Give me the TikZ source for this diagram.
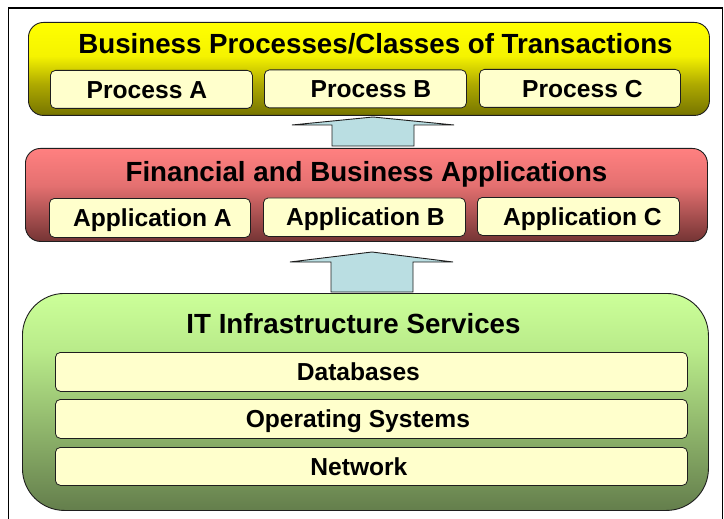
\documentclass[tikz,border=0pt]{standalone}
\usepackage{fontspec}
\setmainfont{Liberation Sans}
\usetikzlibrary{calc}

\definecolor{yelTop}{RGB}{255,255,0}
\definecolor{yelMid}{RGB}{245,243,0}
\definecolor{yelLow}{RGB}{175,170,0}
\definecolor{yelBot}{RGB}{118,116,0}
\definecolor{redTop}{RGB}{255,128,128}
\definecolor{redMid}{RGB}{228,112,112}
\definecolor{redBot}{RGB}{116,52,52}
\definecolor{grnTop}{RGB}{204,255,153}
\definecolor{grnMid}{RGB}{185,235,138}
\definecolor{grnBot}{RGB}{100,126,76}
\definecolor{cream}{RGB}{255,255,204}
\definecolor{arrowfill}{RGB}{186,222,226}
\definecolor{edge}{RGB}{30,30,30}

% vertical shadings: 25bp = bottom of the shape, 75bp = top
\pgfdeclareverticalshading{yellowlayer}{100bp}{color(0bp)=(yelBot); color(25bp)=(yelBot);
  color(42bp)=(yelLow); color(57bp)=(yelMid); color(75bp)=(yelTop); color(100bp)=(yelTop)}
\pgfdeclareverticalshading{redlayer}{100bp}{color(0bp)=(redBot); color(25bp)=(redBot);
  color(55bp)=(redMid); color(75bp)=(redTop); color(100bp)=(redTop)}
\pgfdeclareverticalshading{greenlayer}{100bp}{color(0bp)=(grnBot); color(25bp)=(grnBot);
  color(62bp)=(grnMid); color(75bp)=(grnTop); color(100bp)=(grnTop)}

% text padding: \padL pushes the label right, \padR pushes it left
\newcommand{\padL}[1]{\hspace*{#1}}
\newcommand{\padR}[1]{\hspace*{#1}}

\tikzset{
  layer/.style={draw=edge, line width=0.9pt, anchor=north west, inner sep=0pt},
  item/.style={draw=edge, line width=0.8pt, fill=cream, rounded corners=5pt,
    anchor=north west, inner sep=0pt, text height=17.6pt, text depth=0pt,
    font=\fontsize{24.6}{27}\selectfont\bfseries},
  title/.style={anchor=base, inner sep=0pt, font=\fontsize{27.7}{30}\selectfont\bfseries},
  uparrow/.style={draw=edge, line width=0.9pt, fill=arrowfill, line join=miter},
}

\begin{document}
\begin{tikzpicture}[x=1pt, y=-1pt]
\useasboundingbox (0,0) rectangle (724,519);

% frame
\draw[line width=1.5pt] (8.5,519) |- (722.5,8) -- (722.5,519);

% top layer: business processes
\node[layer, shading=yellowlayer, rounded corners=15pt,
  minimum width=681pt, minimum height=93pt] (biz) at (28,22) {};
\node[title] (bizT) at (375.5,54) {Business Processes/Classes of Transactions};
\node[item, minimum width=202pt, minimum height=38pt] (pA) at (50,70) {Process A\padR{9pt}};
\node[item, minimum width=202pt, minimum height=38pt] (pB) at (264,69.5) {\padL{11pt}Process B};
\node[item, minimum width=201pt, minimum height=38pt] (pC) at (479,69) {\padL{5pt}Process C};

% middle layer: applications
\node[layer, shading=redlayer, rounded corners=15pt,
  minimum width=682pt, minimum height=93pt] (fin) at (25,148) {};
\node[title] (finT) at (366.5,181) {Financial and Business Applications};
\node[item, minimum width=201pt, minimum height=39pt] (aA) at (49,198) {\padL{5pt}Application A};
\node[item, minimum width=202pt, minimum height=38.5pt] (aB) at (263,197.5) {\padL{2pt}Application B};
\node[item, minimum width=202pt, minimum height=38pt] (aC) at (477,197) {\padL{8pt}Application C};

% bottom layer: infrastructure
\node[layer, shading=greenlayer, rounded corners=42pt,
  minimum width=686pt, minimum height=217pt] (it) at (22,293) {};
\node[title] (itT) at (353.5,333) {IT Infrastructure Services};
\node[item, minimum width=632pt, minimum height=39pt] (db) at (55,352) {Databases\padR{26pt}};
\node[item, minimum width=632pt, minimum height=39pt] (os) at (55,399) {Operating Systems\padR{27pt}};
\node[item, minimum width=632pt, minimum height=38pt] (net) at (55,447) {Network\padR{25pt}};

% block arrows between the layers
\coordinate (up1) at (373,146);
\coordinate (up2) at (372,292);
\draw[uparrow] ($(up1)+(-41,0)$) -- ($(up1)+(-41,-21)$) -- ($(up1)+(-81,-21)$)
  -- ($(up1)+(0,-29)$) -- ($(up1)+(81,-21)$) -- ($(up1)+(41,-21)$)
  -- ($(up1)+(41,0)$) -- cycle;
\draw[uparrow] ($(up2)+(-41,0)$) -- ($(up2)+(-41,-30)$) -- ($(up2)+(-82,-30)$)
  -- ($(up2)+(0,-40)$) -- ($(up2)+(81,-30)$) -- ($(up2)+(41,-30)$)
  -- ($(up2)+(41,0)$) -- cycle;
\end{tikzpicture}
\end{document}
